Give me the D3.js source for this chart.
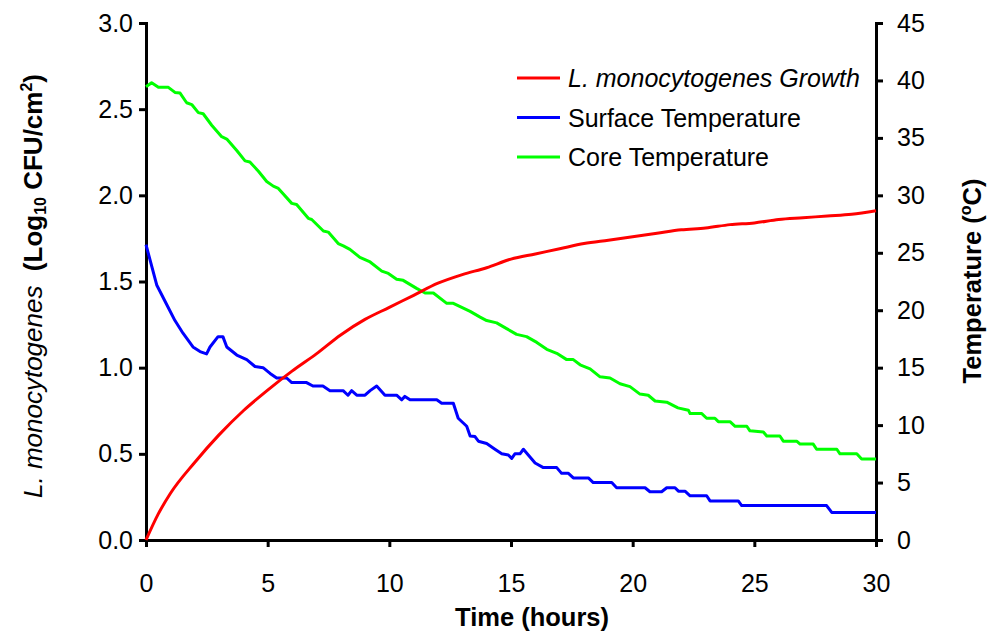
<!DOCTYPE html>
<html><head><meta charset="utf-8">
<script src="https://cdn.jsdelivr.net/npm/d3@7"></script>
<style>body{margin:0;background:#fff}svg{display:block;font-family:Arial,"Liberation Sans",sans-serif}</style>
</head><body><svg id="c" width="987" height="634"></svg>
<script>
const growthTime = [0,0.5,1,2,3,4,5,6,7,8,9,10,11,12,13,14,15,16,17,18,19,20,21,22,23,24,25,26,27,28,29,30];
const growthLog  = [0,0.15,0.27,0.45,0.61,0.75,0.87,0.98,1.08,1.19,1.28,1.35,1.42,1.49,1.54,1.58,1.63,1.66,1.69,1.72,1.74,1.76,1.78,1.80,1.81,1.83,1.84,1.86,1.87,1.88,1.89,1.91];

const surfaceTime = [0,0.44,0.85,1.19,1.52,1.93,2.22,2.49,2.63,2.96,3.16,3.32,3.73,4.14,4.48,4.81,5.10,5.37,5.78,5.99,6.60,6.86,7.27,7.56,8.10,8.30,8.45,8.66,9.00,9.21,9.48,9.82,10.30,10.51,10.64,10.85,11.95,12.15,12.63,12.83,13.18,13.32,13.52,13.66,14.00,14.34,14.62,14.89,15.03,15.16,15.37,15.51,15.71,15.99,16.33,16.88,17.08,17.36,17.56,18.18,18.38,19.14,19.34,20.51,20.71,21.19,21.40,21.74,21.88,22.15,22.36,23.04,23.18,24.34,24.48,27.97,28.18,30];
const surfaceTemp = [25.7,22.2,20.5,19.1,18.0,16.8,16.4,16.2,16.8,17.7,17.7,16.8,16.1,15.7,15.1,15.0,14.5,14.1,14.1,13.7,13.7,13.4,13.4,13.0,13.0,12.6,13.0,12.6,12.6,13.0,13.4,12.6,12.6,12.2,12.5,12.2,12.2,11.9,11.9,10.6,9.9,9.05,9.0,8.6,8.4,7.9,7.5,7.4,7.1,7.5,7.5,7.9,7.4,6.7,6.3,6.3,5.8,5.8,5.4,5.4,5.0,5.0,4.55,4.55,4.2,4.2,4.55,4.55,4.25,4.25,3.85,3.85,3.4,3.4,3.0,3.0,2.4,2.4];

const coreTime = [0,0.23,0.51,0.92,1.19,1.40,1.67,1.88,2.15,2.35,2.70,3.11,3.32,3.73,4.07,4.27,4.62,4.96,5.23,5.44,5.99,6.19,6.67,6.81,7.29,7.49,7.90,8.11,8.38,8.79,9.21,9.69,9.96,10.30,10.57,11.12,11.47,11.81,12.36,12.63,13.32,13.73,14.00,14.41,14.82,15.23,15.64,16.06,16.47,16.88,17.29,17.56,17.84,18.25,18.66,19.07,19.48,19.89,20.30,20.64,20.92,21.40,21.86,22.29,22.36,22.84,23.04,23.38,23.52,24.00,24.21,24.69,24.82,25.37,25.51,26.05,26.19,26.74,26.88,27.42,27.56,28.39,28.52,29.21,29.41,30];
const coreTemp = [39.45,39.8,39.4,39.4,38.96,38.9,38.06,37.9,37.2,37.1,36.1,35.1,34.9,33.9,33.0,32.9,32.1,31.2,30.8,30.6,29.3,29.2,28.0,27.9,26.9,26.8,25.8,25.6,25.3,24.6,24.2,23.4,23.2,22.7,22.6,21.9,21.5,21.5,20.6,20.6,19.9,19.4,19.1,18.9,18.4,17.9,17.7,17.2,16.6,16.25,15.7,15.7,15.25,14.9,14.2,14.1,13.6,13.35,12.7,12.6,12.1,12.0,11.5,11.3,11.0,11.0,10.6,10.6,10.3,10.3,9.9,9.9,9.5,9.4,9.05,9.05,8.6,8.6,8.35,8.35,7.9,7.9,7.5,7.5,7.05,7.05];

const xTicks = [0,5,10,15,20,25,30];
const yLeftTicks = [0,0.5,1.0,1.5,2.0,2.5,3.0];
const yRightTicks = [0,5,10,15,20,25,30,35,40,45];
const seriesNames = ["L. monocytogenes Growth","Surface Temperature","Core Temperature"];
const seriesColors = ["#ff0000","#0000ff","#00ff00"];

const svg = d3.select("#c");
const L=146, R=876, T=23, B=540;
const x = d3.scaleLinear().domain([0,30]).range([L,R]);
const yL = d3.scaleLinear().domain([0,3]).range([B,T]);
const yR = d3.scaleLinear().domain([0,45]).range([B,T]);

function styleAxis(g){
  g.select(".domain").attr("stroke","#000").attr("stroke-width",3);
  g.selectAll(".tick line").attr("stroke","#000").attr("stroke-width",3);
  g.selectAll(".tick text").attr("font-size",25).attr("fill","#000").attr("font-family","Arial, 'Liberation Sans', sans-serif");
}
const gx = svg.append("g").attr("transform",`translate(0,${B})`)
  .call(d3.axisBottom(x).tickValues(xTicks).tickFormat(d3.format("d")).tickSizeOuter(0).tickSize(7).tickPadding(27));
styleAxis(gx);
const gl = svg.append("g").attr("transform",`translate(${L},0)`)
  .call(d3.axisLeft(yL).tickValues(yLeftTicks).tickFormat(d3.format(".1f")).tickSizeOuter(0).tickSize(7).tickPadding(6));
styleAxis(gl);
const gr = svg.append("g").attr("transform",`translate(${R},0)`)
  .call(d3.axisRight(yR).tickValues(yRightTicks).tickFormat(d3.format("d")).tickSizeOuter(0).tickSize(7).tickPadding(14));
styleAxis(gr);

const lineG = d3.line().x((d,i)=>x(growthTime[i])).y(d=>yL(d));
const lineR = (times)=>d3.line().x((d,i)=>x(times[i])).y(d=>yR(d));

svg.append("path").datum(coreTemp).attr("d",lineR(coreTime)).attr("fill","none").attr("stroke",seriesColors[2]).attr("stroke-width",3).attr("stroke-linejoin","round");
svg.append("path").datum(surfaceTemp).attr("d",lineR(surfaceTime)).attr("fill","none").attr("stroke",seriesColors[1]).attr("stroke-width",3).attr("stroke-linejoin","round");
svg.append("path").datum(growthLog).attr("d",lineG.curve(d3.curveMonotoneX)).attr("fill","none").attr("stroke",seriesColors[0]).attr("stroke-width",3).attr("stroke-linejoin","round");

// legend
const lg = svg.append("g");
seriesNames.forEach((n,i)=>{
  const yy = 78 + i*39.5;
  lg.append("line").attr("x1",517).attr("x2",560).attr("y1",yy).attr("y2",yy).attr("stroke",seriesColors[i]).attr("stroke-width",3);
  lg.append("text").attr("x",568).attr("y",yy+9).attr("font-size",25).attr("font-style",i===0?"italic":"normal").text(n);
});

// axis titles
svg.append("text").attr("x",532).attr("y",626).attr("text-anchor","middle").attr("font-size",25.5).attr("font-weight","bold").text("Time (hours)");

const lt = svg.append("text").attr("transform",`translate(42,286) rotate(-90)`).attr("text-anchor","middle").attr("font-size",26);
lt.append("tspan").attr("font-style","italic").text("L. monocytogenes");
lt.append("tspan").attr("font-weight","bold").text("\u00a0 (Log");
lt.append("tspan").attr("font-weight","bold").attr("font-size",16).attr("dy",4).text("10");
lt.append("tspan").attr("font-weight","bold").attr("dy",-4).text(" CFU/cm");
lt.append("tspan").attr("font-weight","bold").attr("font-size",16).attr("dy",-10).text("2");
lt.append("tspan").attr("font-weight","bold").attr("dy",10).text(")");

const rt = svg.append("text").attr("transform",`translate(981,281) rotate(-90)`).attr("text-anchor","middle").attr("font-size",25.5).attr("font-weight","bold");
rt.append("tspan").text("Temperature (");
rt.append("tspan").attr("font-size",16).attr("dy",-10).text("o");
rt.append("tspan").attr("dy",10).text("C)");
</script></body></html>
